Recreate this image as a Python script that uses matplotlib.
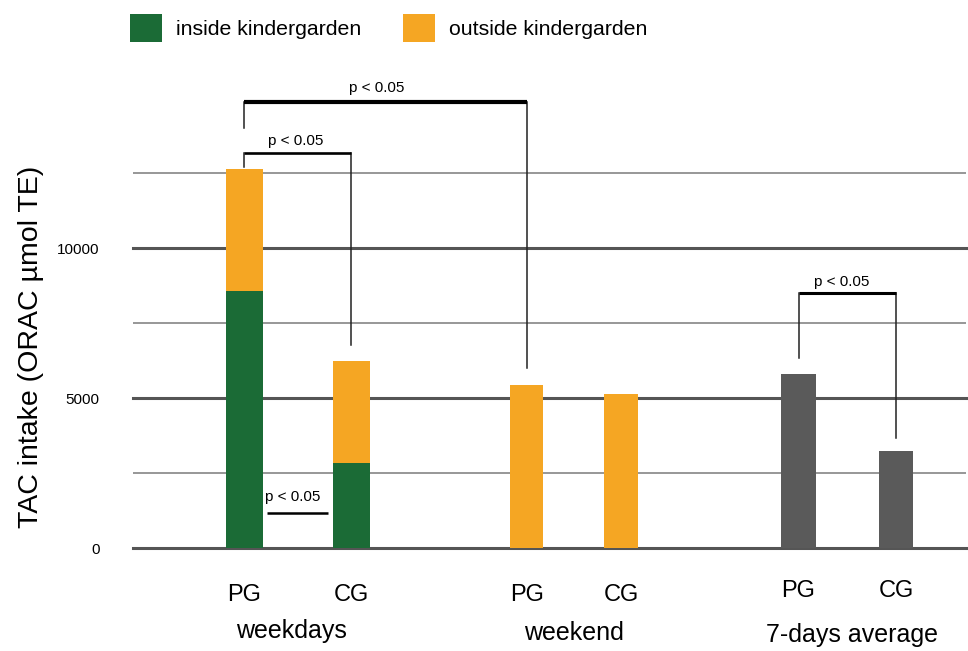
import matplotlib.pyplot as plt
from matplotlib.patches import Patch

plt.rcParams['font.family'] = ['Liberation Sans', 'DejaVu Sans']

# TAC intake per group (ORAC umol TE)
groups = ['weekdays', 'weekend', '7-days average']
bar_labels = ['PG', 'CG', 'PG', 'CG', 'PG', 'CG']
inside = [8570, 2830, 0, 0, 0, 0]
outside = [4060, 3400, 5430, 5130, 0, 0]
average = [0, 0, 0, 0, 5800, 3230]

# layout of the bars along x
bar_x = [0.0, 1.0, 2.64, 3.52, 5.18, 6.09]
bar_w = [0.35, 0.35, 0.31, 0.31, 0.32, 0.32]

green = '#1b6b36'
orange = '#f5a623'
grey = '#5a5a5a'

fig = plt.figure(figsize=(9.68, 6.51), dpi=100)
ax = fig.add_axes([133 / 968, 103 / 651, 833 / 968, 480 / 651])
ax.set_xlim(-1.04, 6.745)
ax.set_ylim(0, 16000)

# horizontal guide lines, heavier at the labelled values
for y in [2500, 7500, 12500]:
    ax.axhline(y, color='#7a7a7a', lw=1.1, zorder=1)
for y in [0, 5000, 10000]:
    ax.axhline(y, color='#555555', lw=2.2, zorder=1, clip_on=False)

ax.bar(bar_x, inside, width=bar_w, color=green, zorder=2)
ax.bar(bar_x, outside, width=bar_w, bottom=inside, color=orange, zorder=2)
ax.bar(bar_x, average, width=bar_w, color=grey, zorder=2)

for s in ax.spines.values():
    s.set_visible(False)
ax.set_xticks([])
ax.set_yticks([0, 5000, 10000])
ax.set_yticklabels(['0', '5000', '10000'], fontsize=11)
ax.tick_params(axis='y', length=0, pad=24)

fig.text(31 / 968, 1 - 347 / 651, 'TAC intake (ORAC \u00b5mol TE)', rotation=90,
         ha='center', va='center', fontsize=20.5)

# bar and group names below the axis
label_y = [-1570, -1570, -1570, -1570, -1430, -1430]
for x, lab, ly in zip(bar_x, bar_labels, label_y):
    ax.text(x, ly, lab, ha='center', va='center', fontsize=17, clip_on=False)
group_y = [-2770, -2850, -2900]
group_shift = [-0.06, 0.0, 0.04]
for i, (g, gy) in enumerate(zip(groups, group_y)):
    mid = (bar_x[2 * i] + bar_x[2 * i + 1]) / 2 + group_shift[i]
    ax.text(mid, gy, g, ha='center', va='center', fontsize=18, clip_on=False)


def bracket(i, j, y, left_end, right_end, top_lw, label_x, label_y):
    x1, x2 = bar_x[i], bar_x[j]
    ax.plot([x1, x1], [left_end, y], color='#222222', lw=1.1, zorder=3, clip_on=False)
    ax.plot([x2, x2], [right_end, y], color='#222222', lw=1.1, zorder=3, clip_on=False)
    ax.plot([x1, x2], [y, y], color='black', lw=top_lw, zorder=3,
            solid_capstyle='butt', clip_on=False)
    ax.text(label_x, label_y, 'p < 0.05', ha='center', va='center', fontsize=11,
            clip_on=False)


bracket(0, 2, 14870, 14000, 6000, 3.0, 1.24, 15330)
bracket(0, 1, 13170, 12700, 6770, 1.9, 0.48, 13570)
bracket(4, 5, 8500, 6330, 3670, 2.2, 5.58, 8870)

# weekday inside-kindergarden comparison
ax.plot([0.21, 0.78], [1170, 1170], color='black', lw=1.8, zorder=3,
        solid_capstyle='butt')
ax.text(0.45, 1700, 'p < 0.05', ha='center', va='center', fontsize=11)

handles = [Patch(facecolor=green, label='inside kindergarden'),
           Patch(facecolor=orange, label='outside kindergarden')]
fig.legend(handles=handles, loc='center left', bbox_to_anchor=(130 / 968, 1 - 28 / 651),
           ncol=2, frameon=False, fontsize=15.3, handlelength=1.5, handleheight=1.6,
           handletextpad=0.65, columnspacing=2.0, borderpad=0, borderaxespad=0)

fig.savefig('out.png', dpi=100)
